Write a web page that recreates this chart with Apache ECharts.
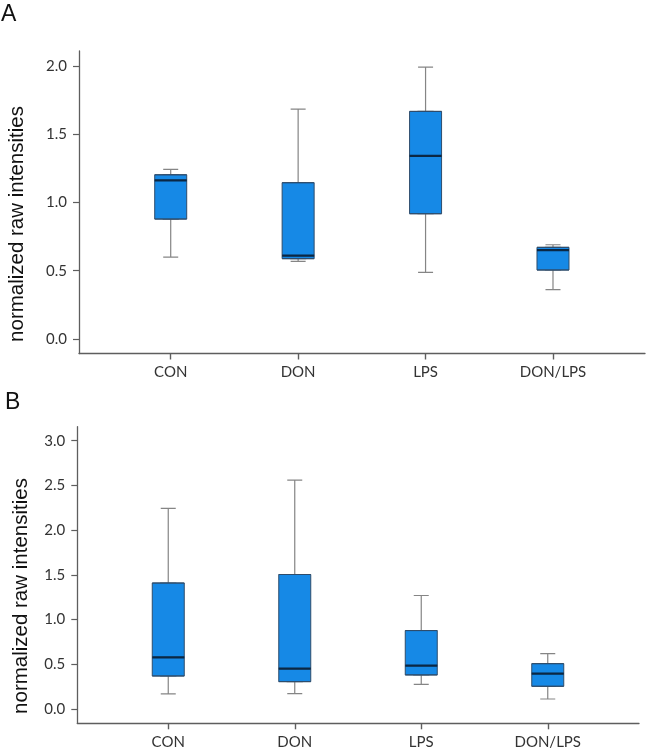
<!DOCTYPE html>
<html>
<head>
<meta charset="utf-8">
<script src="https://cdn.jsdelivr.net/npm/echarts@6/dist/echarts.min.js"></script>
<style>
html,body{margin:0;padding:0;background:#fff;}
#main{width:646px;height:753px;}
</style>
</head>
<body>
<div id="main"></div>
<script>
// ---- data ----
const categories = ['CON', 'DON', 'LPS', 'DON/LPS'];
// [min, Q1, median, Q3, max]
const boxA = [
  [0.600, 0.878, 1.161, 1.202, 1.241],
  [0.568, 0.588, 0.610, 1.144, 1.683],
  [0.488, 0.917, 1.341, 1.666, 1.990],
  [0.361, 0.505, 0.651, 0.671, 0.690]
];
const boxB = [
  [0.168, 0.369, 0.578, 1.409, 2.244],
  [0.172, 0.306, 0.451, 1.504, 2.560],
  [0.276, 0.381, 0.485, 0.877, 1.269],
  [0.112, 0.254, 0.396, 0.507, 0.619]
];
const ticksA = [0, 0.5, 1.0, 1.5, 2.0];
const ticksB = [0, 0.5, 1.0, 1.5, 2.0, 2.5, 3.0];
const yTitle = 'normalized raw intensities';
const panelLabels = ['A', 'B'];

// ---- styling ----
const axisColor = '#5e5e5e';
const labelColor = '#333';
const labelFont = 'Lato';
const boxFill = '#1689e6';
const boxBorder = '#2e4c6b';
const whiskerColor = '#858585';
const medianColor = '#0b2743';

const chart = echarts.init(document.getElementById('main'), null, {renderer: 'canvas'});

function outerX(gi) {
  return {type: 'value', gridIndex: gi, min: 0, max: 1, position: 'bottom',
    axisLine: {show: true, onZero: false, lineStyle: {color: axisColor, width: 1.3}},
    axisTick: {show: false}, axisLabel: {show: false}, splitLine: {show: false}};
}
function innerX(gi, visible) {
  return {type: 'category', gridIndex: gi, data: categories, show: visible, position: 'bottom',
    axisLine: {show: true, onZero: false, lineStyle: {color: 'rgba(0,0,0,0)', width: 1}},
    axisTick: {show: true, alignWithLabel: true, inside: false, length: 6, lineStyle: {color: axisColor, width: 1.4}},
    axisLabel: {show: true, color: labelColor, fontFamily: labelFont, fontSize: 15, margin: 11},
    splitLine: {show: false}};
}
function outerY(gi, min, max, ticks) {
  return {type: 'value', gridIndex: gi, min: min, max: max, position: 'left',
    axisLine: {show: true, onZero: false, lineStyle: {color: axisColor, width: 1.3}},
    axisTick: {show: true, length: 6, customValues: ticks, lineStyle: {color: axisColor, width: 1.2}},
    axisLabel: {show: true, customValues: ticks, color: labelColor, fontFamily: labelFont, fontSize: 15, margin: 12,
      formatter: v => Number(v).toFixed(1)},
    splitLine: {show: false}};
}
function innerY(gi, min, max) {
  return {type: 'value', gridIndex: gi, min: min, max: max, show: false, splitLine: {show: false}};
}
function boxSeries(data, xi, yi) {
  return [
    {type: 'boxplot', xAxisIndex: xi, yAxisIndex: yi, silent: true, z: 2,
      boxWidth: [15, 15], data: data,
      itemStyle: {color: 'rgba(0,0,0,0)', borderColor: whiskerColor, borderWidth: 1.2}},
    {type: 'boxplot', xAxisIndex: xi + 1, yAxisIndex: yi, silent: true, z: 3,
      boxWidth: [32, 32], data: data.map(d => [d[1], d[1], d[2], d[3], d[3]]),
      itemStyle: {color: boxFill, borderColor: boxBorder, borderWidth: 1}},
    {type: 'boxplot', xAxisIndex: xi + 2, yAxisIndex: yi, silent: true, z: 4,
      boxWidth: [32, 32], data: data.map(d => [d[2], d[2], d[2], d[2], d[2]]),
      itemStyle: {color: medianColor, borderColor: medianColor, borderWidth: 2.2}}
  ];
}

const minA = -0.106, maxA = 2.108;
const minB = -0.160, maxB = 3.157;

const option = {
  animation: false,
  backgroundColor: '#fff',
  grid: [
    {left: 79, right: 1, top: 51, bottom: 399.5},
    {left: 107, right: 29.3, top: 51, bottom: 399.5},
    {left: 77.3, right: 7, top: 426.7, bottom: 29.7},
    {left: 105, right: 35, top: 426.7, bottom: 29.7}
  ],
  xAxis: [
    outerX(0), innerX(1, true), innerX(1, false), innerX(1, false),
    outerX(2), innerX(3, true), innerX(3, false), innerX(3, false)
  ],
  yAxis: [
    outerY(0, minA, maxA, ticksA), innerY(1, minA, maxA),
    outerY(2, minB, maxB, ticksB), innerY(3, minB, maxB)
  ],
  series: [].concat(boxSeries(boxA, 1, 1), boxSeries(boxB, 5, 3)),
  graphic: [
    {type: 'text', x: 1, y: 15, style: {text: panelLabels[0], fontFamily: 'Liberation Sans', fontSize: 23, fill: '#111', verticalAlign: 'middle'}},
    {type: 'text', x: 5, y: 403, style: {text: panelLabels[1], fontFamily: 'Liberation Sans', fontSize: 23, fill: '#111', verticalAlign: 'middle'}},
    {type: 'text', x: 17.5, y: 224, rotation: Math.PI / 2, style: {text: yTitle, fontFamily: 'Liberation Sans', fontSize: 20.5, fill: '#111', align: 'center', verticalAlign: 'middle'}},
    {type: 'text', x: 21, y: 596, rotation: Math.PI / 2, style: {text: yTitle, fontFamily: 'Liberation Sans', fontSize: 20.5, fill: '#111', align: 'center', verticalAlign: 'middle'}}
  ]
};
chart.setOption(option);
</script>
</body>
</html>
